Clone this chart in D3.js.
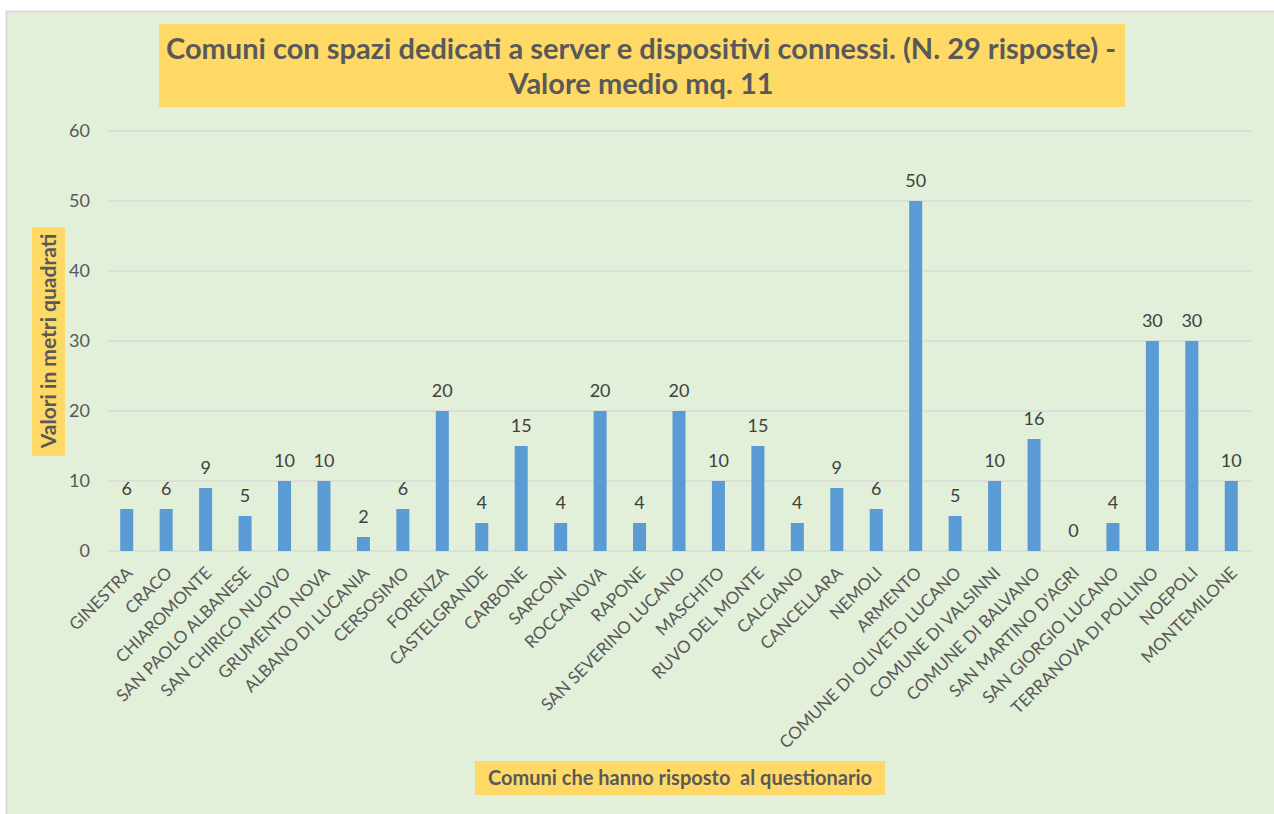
<!DOCTYPE html>
<meta charset="utf-8">
<head>
<style>
  body { margin: 0; background: #fff; }
  svg text { font-family: Lato, "Open Sans", sans-serif; }
</style>
</head>
<body>
<svg id="chart"></svg>
<script src="https://d3js.org/d3.v7.min.js"></script>
<script>
// data
var comuni = ["GINESTRA", "CRACO", "CHIAROMONTE", "SAN PAOLO ALBANESE", "SAN CHIRICO NUOVO",
  "GRUMENTO NOVA", "ALBANO DI LUCANIA", "CERSOSIMO", "FORENZA", "CASTELGRANDE", "CARBONE",
  "SARCONI", "ROCCANOVA", "RAPONE", "SAN SEVERINO LUCANO", "MASCHITO", "RUVO DEL MONTE",
  "CALCIANO", "CANCELLARA", "NEMOLI", "ARMENTO", "COMUNE DI OLIVETO LUCANO",
  "COMUNE DI VALSINNI", "COMUNE DI BALVANO", "SAN MARTINO D'AGRI", "SAN GIORGIO LUCANO",
  "TERRANOVA DI POLLINO", "NOEPOLI", "MONTEMILONE"];
var metri = [6, 6, 9, 5, 10, 10, 2, 6, 20, 4, 15, 4, 20, 4, 20, 10, 15, 4, 9, 6, 50, 5, 10, 16, 0, 4, 30, 30, 10];
var yTicks = [0, 10, 20, 30, 40, 50, 60];
var titolo = ["Comuni con spazi dedicati a server e dispositivi connessi. (N. 29 risposte) -",
  "Valore medio mq. 11"];
var titoloY = "Valori in metri quadrati";
var titoloX = "Comuni che hanno risposto  al questionario";

var W = 1274, H = 814;
var svg = d3.select("#chart").attr("width", W).attr("height", H);

// chart area background
svg.append("rect")
  .attr("x", 6.5).attr("y", 11.5)
  .attr("width", W).attr("height", H)
  .attr("fill", "#e2efd9")
  .attr("stroke", "#d9d9d9").attr("stroke-width", 2);

var plot = {left: 107, right: 1251, top: 131, bottom: 551};

var x = d3.scaleBand()
  .domain(comuni)
  .range([plot.left, plot.right])
  .paddingInner(0.67)
  .paddingOuter(0.335);
var y = d3.scaleLinear()
  .domain([0, 60])
  .range([plot.bottom, plot.top]);

// grid lines
svg.append("g")
  .selectAll("line")
  .data(yTicks)
  .join("line")
  .attr("x1", plot.left).attr("x2", plot.right)
  .attr("y1", function(d) { return y(d); })
  .attr("y2", function(d) { return y(d); })
  .attr("stroke", "#d9d9d9").attr("stroke-width", 1.5);

// y axis labels
var yAxis = svg.append("g")
  .attr("transform", "translate(" + (plot.left - 17) + ",0)")
  .call(d3.axisLeft(y).tickValues(yTicks).tickSize(0).tickPadding(0));
yAxis.select(".domain").remove();
yAxis.selectAll("text")
  .attr("fill", "#595959")
  .style("font-size", "18px");

// bars
svg.append("g")
  .selectAll("rect")
  .data(metri)
  .join("rect")
  .attr("x", function(d, i) { return x(comuni[i]); })
  .attr("width", x.bandwidth())
  .attr("y", function(d) { return y(d); })
  .attr("height", function(d) { return y(0) - y(d); })
  .attr("fill", "#5b9bd5");

// value labels
svg.append("g")
  .selectAll("text")
  .data(metri)
  .join("text")
  .attr("x", function(d, i) { return x(comuni[i]) + x.bandwidth() / 2; })
  .attr("y", function(d) { return y(d) - 14; })
  .attr("text-anchor", "middle")
  .attr("fill", "#404040")
  .style("font-size", "18px")
  .text(function(d) { return d; });

// x axis labels
var xAxis = svg.append("g")
  .attr("transform", "translate(0," + plot.bottom + ")")
  .call(d3.axisBottom(x).tickSize(0).tickPadding(0));
xAxis.select(".domain").remove();
xAxis.selectAll("text")
  .attr("fill", "#595959")
  .style("font-size", "17px")
  .attr("text-anchor", "end")
  .attr("dy", null)
  .attr("transform", "translate(7,23) rotate(-45)");

// title
svg.append("rect")
  .attr("x", 159).attr("y", 24).attr("width", 966).attr("height", 83)
  .attr("fill", "#ffd966");
svg.append("g")
  .selectAll("text")
  .data(titolo)
  .join("text")
  .attr("x", 641)
  .attr("y", function(d, i) { return 59 + i * 35; })
  .attr("text-anchor", "middle")
  .attr("fill", "#595959")
  .style("font-size", "29px")
  .style("font-weight", "bold")
  .text(function(d) { return d; });

// y title
svg.append("rect")
  .attr("x", 32).attr("y", 227).attr("width", 33).attr("height", 229)
  .attr("fill", "#ffd966");
svg.append("text")
  .attr("transform", "translate(56,341) rotate(-90)")
  .attr("text-anchor", "middle")
  .attr("fill", "#595959")
  .style("font-size", "21px")
  .style("font-weight", "bold")
  .text(titoloY);

// x title
svg.append("rect")
  .attr("x", 475).attr("y", 761).attr("width", 410).attr("height", 34)
  .attr("fill", "#ffd966");
svg.append("text")
  .attr("x", 680).attr("y", 785)
  .attr("text-anchor", "middle")
  .attr("fill", "#595959")
  .style("font-size", "20px")
  .style("font-weight", "bold")
  .style("white-space", "pre")
  .text(titoloX);
</script>
</body>
